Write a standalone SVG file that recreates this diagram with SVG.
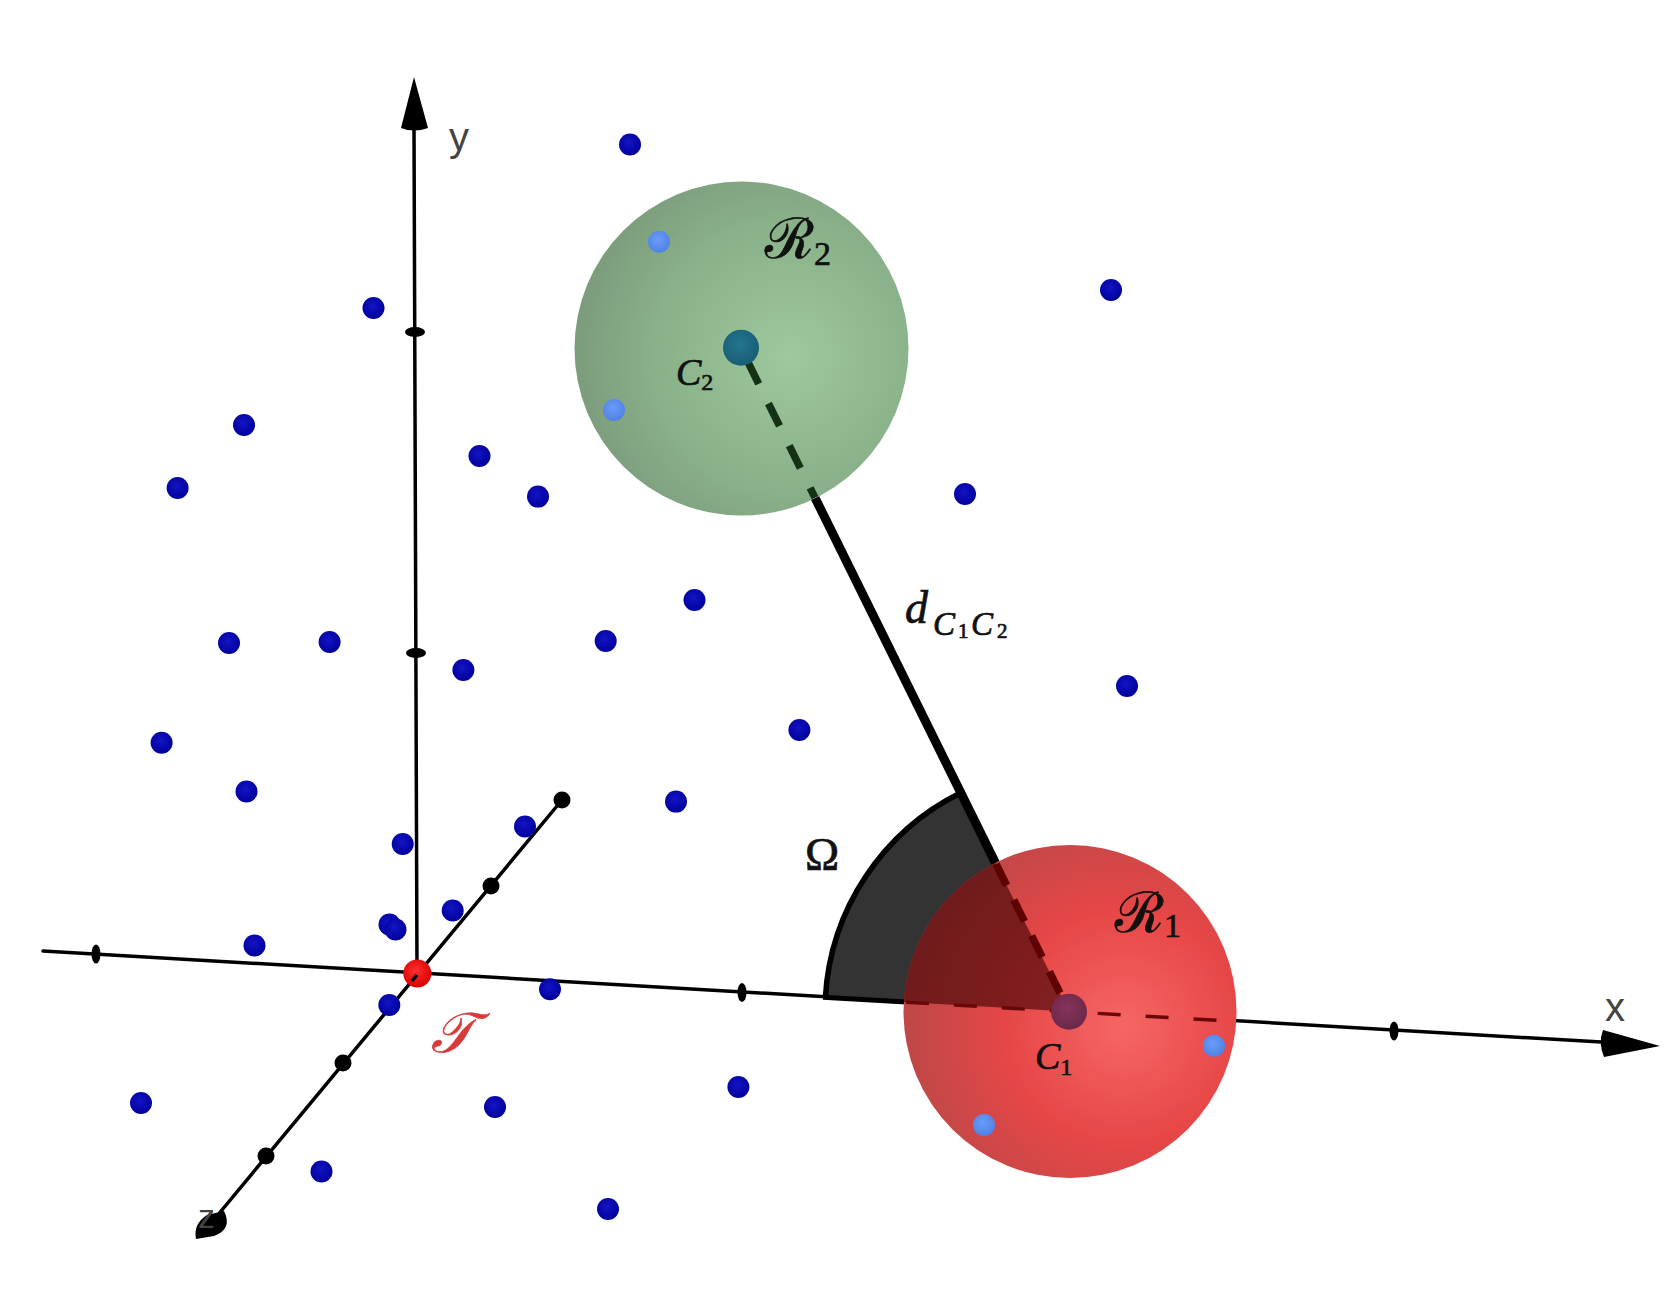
<svg xmlns="http://www.w3.org/2000/svg" width="1678" height="1314" viewBox="0 0 1678 1314">
<style>
.axis{stroke:#000;stroke-width:3.5;fill:none;stroke-linecap:round}
.tick{fill:#000}
.pt{fill:url(#gBlue)}
.inpt{fill:url(#gLight)}
.axlbl{font-family:"Liberation Sans",Arial,sans-serif;font-size:40px;fill:#444}
.math{font-family:"Liberation Serif","DejaVu Serif",serif;fill:#111;stroke:#111;stroke-width:0.7}
.it{font-style:italic}
</style>
<defs>
<radialGradient id="gBlue" cx="0.45" cy="0.4" r="0.6">
<stop offset="0" stop-color="#1414c4"/><stop offset="1" stop-color="#00009c"/>
</radialGradient>
<radialGradient id="gLight" cx="0.45" cy="0.4" r="0.6">
<stop offset="0" stop-color="#6b9cf8"/><stop offset="1" stop-color="#4f82e6"/>
</radialGradient>
<radialGradient id="gGreen" gradientUnits="userSpaceOnUse" cx="790" cy="357" r="215" fx="790" fy="357">
<stop offset="0" stop-color="#9ec89e"/><stop offset="0.6" stop-color="#8ab28a"/><stop offset="1" stop-color="#7c9c7c"/>
</radialGradient>
<radialGradient id="gRed" gradientUnits="userSpaceOnUse" cx="1123" cy="1027" r="215" fx="1123" fy="1027">
<stop offset="0" stop-color="#f66666"/><stop offset="0.55" stop-color="#e64646"/><stop offset="1" stop-color="#c04848"/>
</radialGradient>
<radialGradient id="gOrig" cx="0.45" cy="0.4" r="0.6">
<stop offset="0" stop-color="#ff3030"/><stop offset="1" stop-color="#d80000"/>
</radialGradient>
<radialGradient id="gC2" cx="0.45" cy="0.4" r="0.6">
<stop offset="0" stop-color="#237590"/><stop offset="1" stop-color="#185e74"/>
</radialGradient>
<radialGradient id="gC1" cx="0.45" cy="0.4" r="0.6">
<stop offset="0" stop-color="#86345c"/><stop offset="1" stop-color="#6c2848"/>
</radialGradient>
<clipPath id="clipRed"><circle cx="1070" cy="1011.5" r="166.5"/></clipPath>
</defs>

<g id="axes">
<line class="axis" x1="43" y1="951" x2="1610" y2="1042.6"/>
<path d="M1660 1046 L1603 1030 Q1598 1043 1604 1057 Z" fill="#000"/>
<line class="axis" x1="417" y1="973" x2="414" y2="126" stroke-width="3"/>
<path d="M414 77 L401 128 Q414 133 428 128 Z" fill="#000"/>
<line class="axis" x1="562" y1="800" x2="212" y2="1222"/>
<path d="M224 1211 Q233 1229 214 1236 L196 1239 Q193 1224 207 1215 Z" fill="#000"/>
<ellipse class="tick" cx="96" cy="954" rx="4.5" ry="9.5"/>
<ellipse class="tick" cx="742" cy="992.5" rx="4.5" ry="9.5"/>
<ellipse class="tick" cx="1394" cy="1031" rx="4.5" ry="9.5"/>
<ellipse class="tick" cx="415" cy="332" rx="10" ry="5"/>
<ellipse class="tick" cx="416" cy="653" rx="10" ry="5"/>
<circle class="tick" cx="562" cy="800" r="8.5"/>
<circle class="tick" cx="491" cy="886" r="8.5"/>
<circle class="tick" cx="343" cy="1063" r="8.5"/>
<circle class="tick" cx="266" cy="1156" r="8.5"/>
<text class="axlbl" x="449" y="151">y</text>
<text class="axlbl" x="1605" y="1021">x</text>
<text class="axlbl" x="198" y="1228" style="font-size:34px">z</text>
</g>

<g id="points">
<circle class="pt" cx="630" cy="144.5" r="11"/>
<circle class="pt" cx="1111" cy="290" r="11"/>
<circle class="pt" cx="373.5" cy="308" r="11"/>
<circle class="pt" cx="244" cy="425" r="11"/>
<circle class="pt" cx="177.6" cy="488" r="11"/>
<circle class="pt" cx="479.5" cy="456" r="11"/>
<circle class="pt" cx="538" cy="496.6" r="11"/>
<circle class="pt" cx="965" cy="494" r="11"/>
<circle class="pt" cx="694.5" cy="600" r="11"/>
<circle class="pt" cx="229" cy="643" r="11"/>
<circle class="pt" cx="329.6" cy="642" r="11"/>
<circle class="pt" cx="605.7" cy="641" r="11"/>
<circle class="pt" cx="463.4" cy="670" r="11"/>
<circle class="pt" cx="1127" cy="686" r="11"/>
<circle class="pt" cx="161.6" cy="742.7" r="11"/>
<circle class="pt" cx="799.4" cy="730" r="11"/>
<circle class="pt" cx="246.5" cy="791.5" r="11"/>
<circle class="pt" cx="676" cy="801.6" r="11"/>
<circle class="pt" cx="525" cy="826.5" r="11"/>
<circle class="pt" cx="402.7" cy="844" r="11"/>
<circle class="pt" cx="452.7" cy="910.5" r="11"/>
<circle class="pt" cx="389.5" cy="924.5" r="11"/>
<circle class="pt" cx="395.5" cy="929.5" r="11"/>
<circle class="pt" cx="254.5" cy="945.5" r="11"/>
<circle class="pt" cx="389.3" cy="1005" r="11"/>
<circle class="pt" cx="550" cy="989.3" r="11"/>
<circle class="pt" cx="141" cy="1103" r="11"/>
<circle class="pt" cx="495" cy="1107" r="11"/>
<circle class="pt" cx="738.4" cy="1087" r="11"/>
<circle class="pt" cx="321.5" cy="1171.5" r="11"/>
<circle class="pt" cx="608" cy="1209" r="11"/>
</g>

<g id="origin">
<circle cx="417.3" cy="973.5" r="14" fill="url(#gOrig)"/>
<line x1="417" y1="975" x2="412" y2="981" stroke="#000" stroke-width="3.5"/>
<text x="431" y="1052" style="font-family:'DejaVu Serif','Liberation Serif',serif;font-size:56px;font-style:italic;fill:#d83a3a;stroke:#d83a3a;stroke-width:0.6">𝒯</text>
</g>

<g id="angle">
<path d="M1069 1011.5 L825.4 997.4 A244 244 0 0 1 960.9 792.8 Z" fill="#333"/>
<path d="M825.4 997.4 A244 244 0 0 1 960.9 792.8" fill="none" stroke="#000" stroke-width="5.5"/>
<line x1="823" y1="997.3" x2="906" y2="1002" stroke="#000" stroke-width="5"/>
<text class="math" x="805" y="870" style="font-size:46px">Ω</text>
</g>

<g id="connectors">
<line x1="815" y1="497.7" x2="995.5" y2="863" stroke="#000" stroke-width="9"/>
</g>

<g id="sphere2">
<circle cx="741.5" cy="348.5" r="167" fill="url(#gGreen)"/>
<line x1="747.6" y1="361.4" x2="815" y2="497.7" stroke="#163216" stroke-width="7.5" stroke-dasharray="25 22"/>
<circle class="inpt" cx="659" cy="241.7" r="11"/>
<circle class="inpt" cx="614" cy="410" r="11"/>
<circle cx="741" cy="347.7" r="18" fill="url(#gC2)"/>
<text class="math" x="765" y="258" style="font-size:56px">ℛ<tspan style="font-size:34px" dy="7">2</tspan></text>
<text class="math it" x="676" y="385" style="font-size:38px">C<tspan style="font-size:24px;font-style:normal" dy="5">2</tspan></text>
</g>

<g id="sphere1">
<circle cx="1070" cy="1011.5" r="166.5" fill="url(#gRed)"/>
<path d="M1069 1011.5 L825.4 997.4 A244 244 0 0 1 960.9 792.8 Z" fill="#3a0000" fill-opacity="0.6" clip-path="url(#clipRed)"/>
<line x1="906" y1="1002.2" x2="1237" y2="1021.5" stroke="#6a0808" stroke-width="3.5" stroke-dasharray="23 25"/>
<line x1="996" y1="864" x2="1062" y2="997" stroke="#5e0202" stroke-width="7.5" stroke-dasharray="24 16"/>
<circle class="inpt" cx="1214" cy="1045.7" r="11"/>
<circle class="inpt" cx="984" cy="1125" r="11"/>
<circle cx="1069" cy="1011.7" r="18" fill="url(#gC1)"/>
<text class="math" x="1115" y="932" style="font-size:56px">ℛ<tspan style="font-size:34px" dy="5">1</tspan></text>
<text class="math it" x="1035" y="1069" style="font-size:38px">C<tspan style="font-size:24px;font-style:normal" dy="6">1</tspan></text>
</g>

<g id="dist-label">
<text class="math it" style="font-size:46px"><tspan x="905" y="623">d</tspan><tspan x="933" y="635" style="font-size:33px">C</tspan><tspan x="958" y="638" style="font-size:21px;font-style:normal">1</tspan><tspan x="971" y="635" style="font-size:33px">C</tspan><tspan x="997" y="638" style="font-size:21px;font-style:normal">2</tspan></text>
</g>
</svg>
